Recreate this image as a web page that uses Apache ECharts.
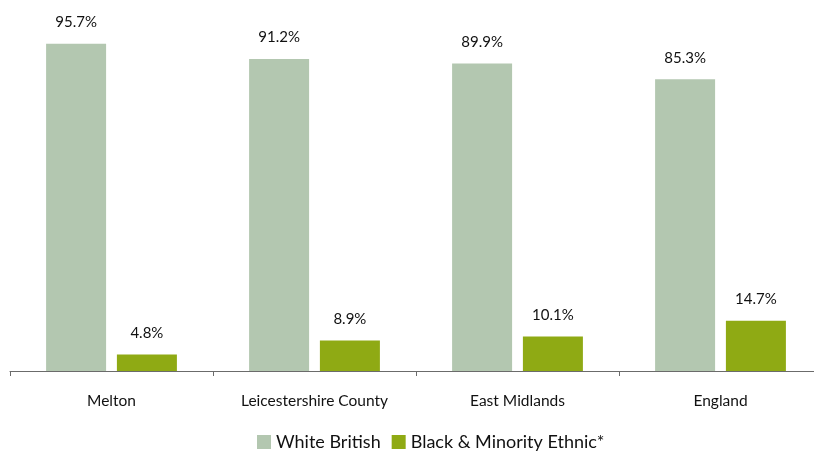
<!DOCTYPE html>
<html><head><meta charset="utf-8">
<script src="https://cdn.jsdelivr.net/npm/echarts@6/dist/echarts.min.js"></script>
<style>html,body{margin:0;padding:0;background:#fff;overflow:hidden}#c{width:822px;height:452px}</style>
</head><body><div id="c"></div>
<script>
const categories = ["Melton", "Leicestershire County", "East Midlands", "England"];
const whiteBritish = [95.7, 91.2, 89.9, 85.3];
const bme = [4.8, 8.9, 10.1, 14.7];
const seriesNames = ["White British", "Black & Minority Ethnic*"];

const chart = echarts.init(document.getElementById('c'));
const font = 'Lato';
const lbl = {show: true, position: 'top', distance: 14, color: '#111', fontFamily: font, fontSize: 15,
  formatter: p => p.value.toFixed(1) + '%'};
chart.setOption({
  animation: false,
  grid: {left: 10, right: 0, top: 29, bottom: 81, containLabel: false},
  legend: {bottom: -4, left: 252, itemWidth: 14, itemHeight: 14, itemGap: 11, icon: 'rect',
    textStyle: {fontFamily: font, fontSize: 18, color: '#111'}, data: seriesNames},
  xAxis: {type: 'category', data: categories,
    axisLine: {lineStyle: {color: '#6b6b6b', width: 1}},
    axisTick: {show: true, length: 5, lineStyle: {color: '#6b6b6b'}},
    axisLabel: {margin: 22, color: '#111', fontFamily: font, fontSize: 15.5}},
  yAxis: {type: 'value', min: 0, max: 100, show: false, splitLine: {show: false}},
  series: [
    {name: seriesNames[0], type: 'bar', data: whiteBritish, barWidth: 60, barGap: '18%',
      itemStyle: {color: '#B3C7B0'}, label: lbl},
    {name: seriesNames[1], type: 'bar', data: bme, barWidth: 60, barGap: '18%',
      itemStyle: {color: '#8FAA14'}, label: lbl}
  ]
});
</script></body></html>
